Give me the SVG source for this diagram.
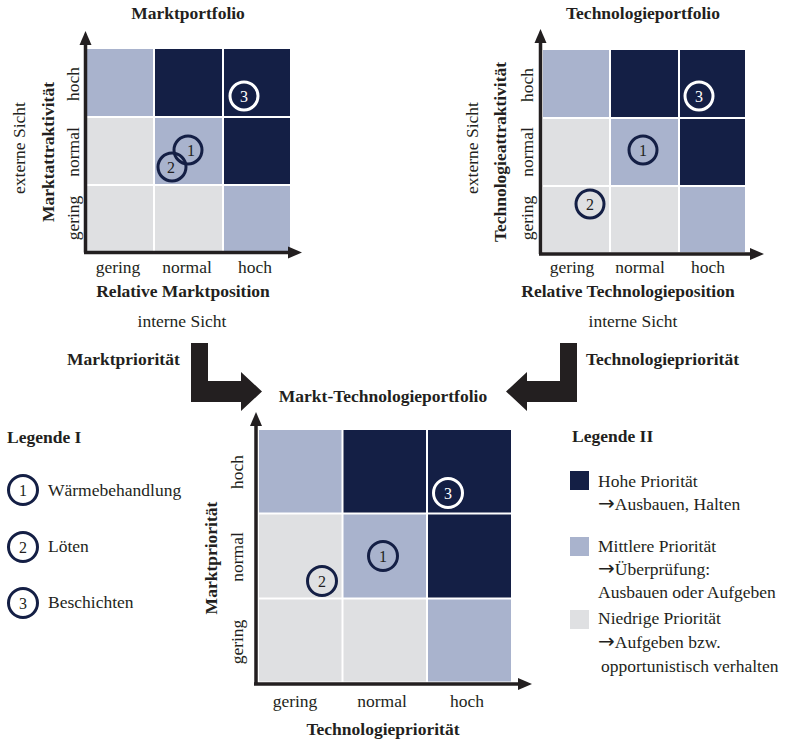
<svg xmlns="http://www.w3.org/2000/svg" width="802" height="740" viewBox="0 0 802 740">
  <style>
    text { font-family: "Liberation Serif", "Times New Roman", serif; font-size: 17.5px; fill: #231f20; }
    .b { font-weight: bold; }
    .m { text-anchor: middle; }
    .hi { fill: #141f45; }
    .mid { fill: #a9b3cd; }
    .lo { fill: #dfe0e2; }
    .axis { stroke: #231f20; stroke-width: 3.5; fill: none; }
    .tip { fill: #231f20; }
    .ring { fill: none; stroke: #141f45; stroke-width: 3; }
    .ringw { fill: none; stroke: #ffffff; stroke-width: 3; }
    .num { font-size: 16px; text-anchor: middle; }
    .numw { font-size: 16px; text-anchor: middle; fill: #ffffff; }
    .arrow { fill: #231f20; }
    .sym { font-family: "DejaVu Sans", sans-serif; font-size: 20px; }
  </style>

  <!-- Marktportfolio -->
  <g id="marktportfolio">
    <text class="b m" x="188" y="19">Marktportfolio</text>
    <rect class="mid" x="87" y="49" width="66" height="67"/>
    <rect class="hi" x="155" y="49" width="67" height="67"/>
    <rect class="hi" x="224" y="49" width="66" height="67"/>
    <rect class="lo" x="87" y="118" width="66" height="66"/>
    <rect class="mid" x="155" y="118" width="67" height="66"/>
    <rect class="hi" x="224" y="118" width="66" height="66"/>
    <rect class="lo" x="87" y="186" width="66" height="65"/>
    <rect class="lo" x="155" y="186" width="67" height="65"/>
    <rect class="mid" x="224" y="186" width="66" height="65"/>
    <path class="axis" d="M85.5 252.5 V44 M84 252.5 H290"/>
    <polygon class="tip" points="85.5,31 79.5,45 91.5,45"/>
    <polygon class="tip" points="302,252.5 288,246.5 288,258.5"/>
    <circle class="ringw" cx="244" cy="96" r="14"/>
    <text class="numw" x="244" y="101.5">3</text>
    <circle class="ring" cx="188" cy="150" r="14"/>
    <text class="num" x="191" y="155.5">1</text>
    <circle class="ring" cx="172" cy="167" r="14"/>
    <text class="num" x="171" y="172.5">2</text>
    <text class="m" transform="translate(79,84) rotate(-90)">hoch</text>
    <text class="m" transform="translate(79,152) rotate(-90)">normal</text>
    <text class="m" transform="translate(79,218) rotate(-90)">gering</text>
    <text class="b m" transform="translate(54,152) rotate(-90)">Marktattraktivität</text>
    <text class="m" transform="translate(25,148) rotate(-90)">externe Sicht</text>
    <text class="m" x="118" y="273">gering</text>
    <text class="m" x="187" y="273">normal</text>
    <text class="m" x="255" y="273">hoch</text>
    <text class="b m" x="183" y="297">Relative Marktposition</text>
    <text class="m" x="182" y="327">interne Sicht</text>
  </g>

  <!-- Technologieportfolio -->
  <g id="technologieportfolio">
    <text class="b m" x="643" y="19">Technologieportfolio</text>
    <rect class="mid" x="543" y="50" width="66" height="67"/>
    <rect class="hi" x="611" y="50" width="67" height="67"/>
    <rect class="hi" x="680" y="50" width="65" height="67"/>
    <rect class="lo" x="543" y="119" width="66" height="66"/>
    <rect class="mid" x="611" y="119" width="67" height="66"/>
    <rect class="hi" x="680" y="119" width="65" height="66"/>
    <rect class="lo" x="543" y="187" width="66" height="65"/>
    <rect class="lo" x="611" y="187" width="67" height="65"/>
    <rect class="mid" x="680" y="187" width="65" height="65"/>
    <path class="axis" d="M540.5 254 V42 M539 254 H751"/>
    <polygon class="tip" points="540.5,29 534.5,43 546.5,43"/>
    <polygon class="tip" points="764,254 750,248 750,260"/>
    <circle class="ringw" cx="699" cy="96" r="14"/>
    <text class="numw" x="699" y="101.5">3</text>
    <circle class="ring" cx="643" cy="150" r="14"/>
    <text class="num" x="643" y="155.5">1</text>
    <circle class="ring" cx="590" cy="204" r="14"/>
    <text class="num" x="590" y="209.5">2</text>
    <text class="m" transform="translate(533,85) rotate(-90)">hoch</text>
    <text class="m" transform="translate(533,152) rotate(-90)">normal</text>
    <text class="m" transform="translate(533,218) rotate(-90)">gering</text>
    <text class="b m" transform="translate(506,152) rotate(-90)">Technologieattraktivität</text>
    <text class="m" transform="translate(478,148) rotate(-90)">externe Sicht</text>
    <text class="m" x="572" y="273">gering</text>
    <text class="m" x="640" y="273">normal</text>
    <text class="m" x="708" y="273">hoch</text>
    <text class="b m" x="628" y="297">Relative Technologieposition</text>
    <text class="m" x="633" y="327">interne Sicht</text>
  </g>

  <!-- Priority arrows feeding the combined portfolio -->
  <g id="connectors">
    <text class="b" x="67" y="365">Marktpriorität</text>
    <polygon class="arrow" points="191,343 208,343 208,381 241,381 241,372 262,391.5 241,411 241,402 191,402"/>
    <text class="b" x="586" y="365">Technologiepriorität</text>
    <polygon class="arrow" points="577,343 560,343 560,381 527,381 527,372 506,391.5 527,411 527,402 577,402"/>
  </g>

  <!-- Markt-Technologieportfolio -->
  <g id="markt-technologieportfolio">
    <text class="b m" x="383" y="402">Markt-Technologieportfolio</text>
    <rect class="mid" x="259" y="430" width="82.5" height="82.5"/>
    <rect class="hi" x="343.5" y="430" width="82.5" height="82.5"/>
    <rect class="hi" x="428" y="430" width="83" height="82.5"/>
    <rect class="lo" x="259" y="514.5" width="82.5" height="83"/>
    <rect class="mid" x="343.5" y="514.5" width="82.5" height="83"/>
    <rect class="hi" x="428" y="514.5" width="83" height="83"/>
    <rect class="lo" x="259" y="599.5" width="82.5" height="82"/>
    <rect class="lo" x="343.5" y="599.5" width="82.5" height="82"/>
    <rect class="mid" x="428" y="599.5" width="83" height="82"/>
    <path class="axis" d="M256 684 V425 M254 684 H519"/>
    <polygon class="tip" points="256,412 250,426 262,426"/>
    <polygon class="tip" points="532,684 518,678 518,690"/>
    <circle class="ringw" cx="448" cy="493" r="14.5"/>
    <text class="numw" x="448" y="498.5">3</text>
    <circle class="ring" cx="383" cy="556" r="14.5"/>
    <text class="num" x="383" y="561.5">1</text>
    <circle class="ring" cx="322" cy="581" r="14.5"/>
    <text class="num" x="322" y="586.5">2</text>
    <text class="m" transform="translate(243,472) rotate(-90)">hoch</text>
    <text class="m" transform="translate(243,557) rotate(-90)">normal</text>
    <text class="m" transform="translate(243,642) rotate(-90)">gering</text>
    <text class="b m" transform="translate(217,558) rotate(-90)">Marktpriorität</text>
    <text class="m" x="295" y="707">gering</text>
    <text class="m" x="382" y="707">normal</text>
    <text class="m" x="467" y="707">hoch</text>
    <text class="b m" x="383" y="735">Technologiepriorität</text>
  </g>

  <!-- Legende I -->
  <g id="legende-1">
    <text class="b" x="7" y="443">Legende I</text>
    <circle class="ring" cx="23" cy="490" r="14.5"/>
    <text class="num" x="23" y="495.5">1</text>
    <text x="48" y="496">Wärmebehandlung</text>
    <circle class="ring" cx="23" cy="547" r="14.5"/>
    <text class="num" x="23" y="552.5">2</text>
    <text x="48" y="552">Löten</text>
    <circle class="ring" cx="23" cy="603" r="14.5"/>
    <text class="num" x="23" y="608.5">3</text>
    <text x="48" y="608">Beschichten</text>
  </g>

  <!-- Legende II -->
  <g id="legende-2">
    <text class="b" x="572" y="442">Legende II</text>
    <rect class="hi" x="570" y="471" width="19" height="19"/>
    <text x="598" y="487">Hohe Priorität</text>
    <text x="598" y="510"><tspan class="sym">→</tspan>Ausbauen, Halten</text>
    <rect class="mid" x="570" y="537" width="19" height="19"/>
    <text x="598" y="552">Mittlere Priorität</text>
    <text x="598" y="575"><tspan class="sym">→</tspan>Überprüfung:</text>
    <text x="598" y="598">Ausbauen oder Aufgeben</text>
    <rect class="lo" x="570" y="610" width="19" height="19"/>
    <text x="598" y="624">Niedrige Priorität</text>
    <text x="598" y="648"><tspan class="sym">→</tspan>Aufgeben bzw.</text>
    <text x="601" y="672">opportunistisch verhalten</text>
  </g>
</svg>
